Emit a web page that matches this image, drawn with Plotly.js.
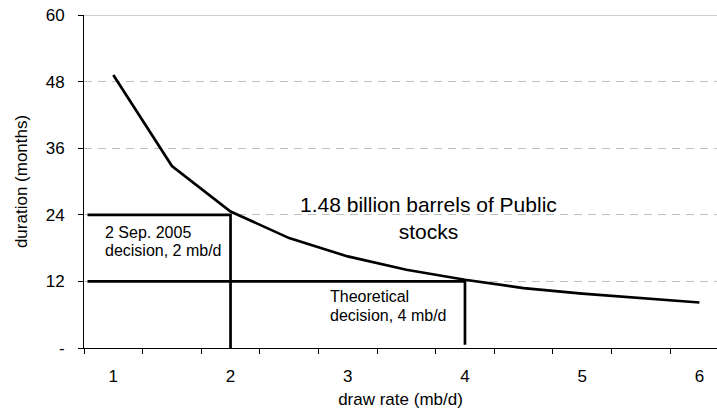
<!DOCTYPE html>
<html><head><meta charset="utf-8">
<script src="https://cdn.plot.ly/plotly-3.0.1.min.js"></script>
<style>body{margin:0;padding:0;background:#fff}#chart{width:717px;height:412px}</style>
</head><body><div id="chart"></div>
<script>
// draw rate (mb/d) and duration (months) of the public stock release curve
const drawRates = [1, 1.5, 2, 2.5, 3, 3.5, 4, 4.5, 5, 5.5, 6];
const durations = [49.2, 32.8, 24.6, 19.8, 16.5, 14.1, 12.3, 10.8, 9.8, 9.0, 8.2];
// decision scenarios
const scenarioRates = [2, 4];
const scenarioDurations = [24, 12];
const scenarioLabels = ["2 Sep. 2005\ndecision, 2 mb/d", "Theoretical\ndecision, 4 mb/d"];
const xTickVals = [1, 2, 3, 4, 5, 6];
const xTickText = ["1", "2", "3", "4", "5", "6"];
const yTickVals = [0, 12, 24, 36, 48, 60];
const yTickText = ["-", "12", "24", "36", "48", "60"];
const curveLabel = "1.48 billion barrels of Public<br>stocks";

const FONT = "Liberation Sans, Arial, sans-serif";
const lineStart = 0.78;
const lineBottoms = [-0.8, 0.6];
// label placement (x left edge, y of first line, line step) in axis units
const labelPos = [{x: 0.912, y: 20.8, step: 3.3}, {x: 2.832, y: 9.24, step: 3.3}];

const traces = [{
  x: drawRates, y: durations, mode: "lines", type: "scatter",
  line: {color: "#000", width: 2.7}, hoverinfo: "none", cliponaxis: false
}];
scenarioRates.forEach((r, i) => {
  traces.push({
    x: [lineStart, r, r], y: [scenarioDurations[i], scenarioDurations[i], lineBottoms[i]],
    mode: "lines", type: "scatter", line: {color: "#000", width: 2.7},
    hoverinfo: "none", cliponaxis: false
  });
});

const minorVals = [];
for (let v = 0.75; v <= 6.3; v += 0.5) minorVals.push(v);

const annotations = [
  {x: 3.685, y: 23.4, xref: "x", yref: "y", text: curveLabel, showarrow: false, font: {size: 21}, align: "center"}
];
scenarioLabels.forEach((t, i) => {
  t.split("\n").forEach((line, j) => {
    annotations.push({x: labelPos[i].x, y: labelPos[i].y - j * labelPos[i].step, xref: "x", yref: "y",
      text: line, showarrow: false, font: {size: 16}, xanchor: "left", yanchor: "middle"});
  });
});

const layout = {
  width: 717, height: 412,
  margin: {l: 84, r: 0, t: 15, b: 64},
  paper_bgcolor: "#fff", plot_bgcolor: "#fff",
  showlegend: false,
  font: {family: FONT, size: 17, color: "#000"},
  xaxis: {
    range: [0.75, 6.15], showgrid: false, zeroline: false,
    tickmode: "array", tickvals: xTickVals, ticktext: xTickText,
    ticks: "", ticklabelstandoff: 13,
    showline: true, linecolor: "#000", linewidth: 1,
    minor: {tickmode: "array", tickvals: minorVals, ticks: "outside", ticklen: 5, tickcolor: "#000", tickwidth: 1, showgrid: false},
    title: {text: "draw rate (mb/d)", font: {size: 17}, standoff: 7},
    tickfont: {size: 17}
  },
  yaxis: {
    range: [0, 60], zeroline: false,
    tickmode: "array", tickvals: yTickVals, ticktext: yTickText,
    ticks: "outside", ticklen: 5, tickcolor: "#000",
    ticklabelstandoff: 10,
    showline: true, linecolor: "#000", linewidth: 1,
    showgrid: true, gridcolor: "#c0c0c0", gridwidth: 1, griddash: "8px,6px",
    title: {text: "duration (months)", font: {size: 17}, standoff: 13},
    tickfont: {size: 17}
  },
  shapes: [{type: "line", xref: "paper", yref: "y", x0: 0, x1: 1, y0: 60, y1: 60, line: {color: "#a0a0a0", width: 1}}],
  annotations: annotations
};
Plotly.newPlot("chart", traces, layout, {staticPlot: true, displayModeBar: false});
</script></body></html>
